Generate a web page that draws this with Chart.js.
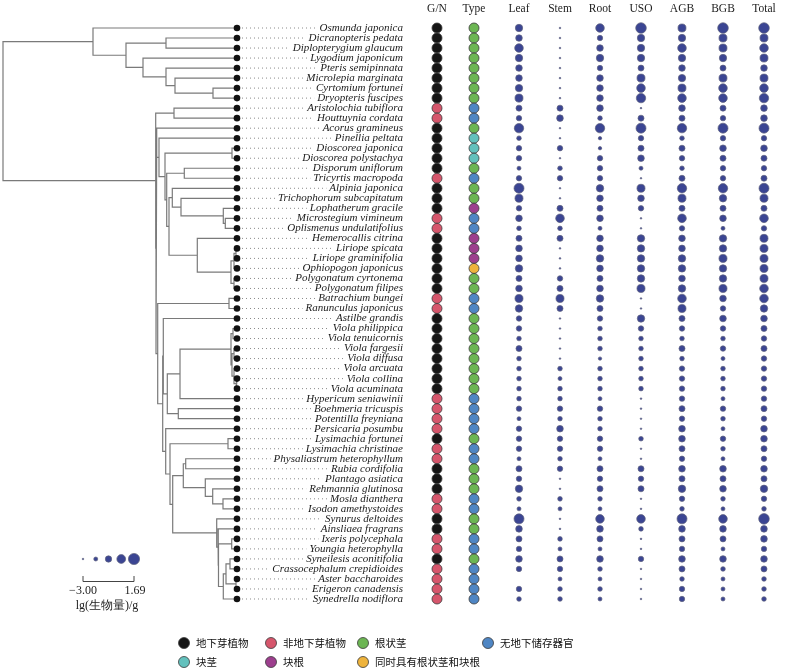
<!DOCTYPE html>
<html><head><meta charset="utf-8">
<script src="https://cdn.jsdelivr.net/npm/chart.js@4.4.1/dist/chart.umd.min.js"></script>
<style>html,body{margin:0;padding:0;background:#fff}#wrap{width:800px;height:671px}</style>
</head><body><div id="wrap"><canvas id="c" width="800" height="671"></canvas></div>
<script>
// ---------------- DATA ----------------
const species = ["Osmunda japonica","Dicranopteris pedata","Diplopterygium glaucum","Lygodium japonicum","Pteris semipinnata","Microlepia marginata","Cyrtomium fortunei","Dryopteris fuscipes","Aristolochia tubiflora","Houttuynia cordata","Acorus gramineus","Pinellia peltata","Dioscorea japonica","Dioscorea polystachya","Disporum uniflorum","Tricyrtis macropoda","Alpinia japonica","Trichophorum subcapitatum","Lophatherum gracile","Microstegium vimineum","Oplismenus undulatifolius","Hemerocallis citrina","Liriope spicata","Liriope graminifolia","Ophiopogon japonicus","Polygonatum cyrtonema","Polygonatum filipes","Batrachium bungei","Ranunculus japonicus","Astilbe grandis","Viola philippica","Viola tenuicornis","Viola fargesii","Viola diffusa","Viola arcuata","Viola collina","Viola acuminata","Hypericum seniawinii","Boehmeria tricuspis","Potentilla freyniana","Persicaria posumbu","Lysimachia fortunei","Lysimachia christinae","Physaliastrum heterophyllum","Rubia cordifolia","Plantago asiatica","Rehmannia glutinosa","Mosla dianthera","Isodon amethystoides","Synurus deltoides","Ainsliaea fragrans","Ixeris polycephala","Youngia heterophylla","Syneilesis aconitifolia","Crassocephalum crepidioides","Aster baccharoides","Erigeron canadensis","Synedrella nodiflora"];

// tree (tips are row indices of `species`), branch lengths
const treeNewick = "(" +
 "(0:144,((1:71,2:71):40,(3:94,(4:71,(5:62,(6:24,7:24):38):9):23):17):33):90," +
 "((8:63,9:63):18.3,(" +
   "(10:80.3,(11:78,((12:5,13:5):67,((14:52.7,15:52.7):17.6,(" +
     "(16:64.7,(17:56,(18:13.7,(19:11.7,20:11.7):2):42.3):8.7):3.3," +
     "(21:39.7,(((22:1,23:1):2,24:3):3,(25:3,26:3):3):33.7):28.3" +
   "):2.3):1.7):6):2.3):0.7," +
   "((27:8,28:8):71.3,(" +
     "(29:73.7,((((30:4,31:4):2,((32:3,33:3):2,(34:3,(35:1,36:1):2):2):1):51,37:57):12.7,(38:58.7,39:58.7):11):4):0.6," +
     "(40:71.3,((41:9,42:9):58,(" +
       "((43:51.3,44:51.3):2.4,(45:31.7,(46:24.3,(47:14,48:14):10.3):7.4):22):10.6," +
       "(49:20.3,(50:19,((51:5.3,52:5.3):13.2,(((53:7,54:7):4,(55:1,56:1):10):2.7,57:13.7):4.8):0.5):1.3):44" +
     "):2.7):4.3):3" +
   "):5):1.7" +
 "):0.3):152.7);";

// G = 地下芽植物, N = 非地下芽植物
const growthGroup = "GGGGGGGGNNGGGGGNGGGNNGGGGGGNNGGGGGGGGNNNNGNNGGGNNGGNNGNNNN".split("");
// R 根状茎, N 无地下储存器官, T 块茎, K 块根, B 同时具有根状茎和块根
const organType = "RRRRRRRRNNRTTTRNRRKNNKKKBRRNNRRRRRRRRNNNNRNNRRRNNRRNNRNNNN".split("");

// lg(biomass)/g
const leaf  = [-0.17,-0.56,0.42,-0.17,-0.56,-0.56,-0.17,0.13,-0.85,-1.14, 0.81,-1.53,-1.14,-1.14,-1.83,-1.14,1.10,0.13,-1.14,-0.56, -1.53,-0.85,-0.56,-0.56,-0.17,-0.85,-0.56,0.13,-0.17,-1.14, -1.14,-1.53,-0.85,-1.53,-1.53,-1.53,-1.53,-1.53,-1.14,-1.83, -1.14,-1.14,-1.14,-1.83,-0.85,-1.14,-0.17,-1.53,-1.83,1.10, -0.56,-0.85,-1.14,-0.56,-1.14,null,-1.14,-1.53];
const stem  = [-3,-3,-3,-3,-3,-3,-3,-3,-0.85,-0.56, -3,-3,-1.14,-3,-1.53,-1.14,-3,-3,-0.85,0.42, -1.53,-0.85,-3,-3,-3,-1.14,-0.85,0.13,-0.85,-3, -3,-3,-3,-3,-1.53,-1.83,-1.53,-1.53,-1.14,-1.53, -0.56,-1.14,-1.14,-1.53,-1.14,-3,-3,-1.53,-1.83,-3, -3,-1.53,-1.83,-0.85,-1.14,-1.83,-1.53,-1.53];
const root  = [0.42,-1.14,-0.56,-0.17,-1.14,-0.56,-0.56,-0.56,-0.56,-1.53, 0.81,-2.12,-2.12,-1.14,-1.14,-1.14,-0.17,-0.56,-0.85,-0.56, -1.83,-0.56,-0.56,-0.17,-0.56,-0.85,-0.56,-0.17,-0.85,-1.14, -1.53,-1.53,-1.53,-2.12,-1.53,-1.53,-1.53,-1.83,-1.14,-1.53, -1.53,-1.14,-1.14,-1.83,-0.85,-1.14,-0.85,-1.53,-1.83,0.42, -0.56,-0.85,-1.83,-0.56,-1.53,-1.83,-1.53,-1.83];
const uso   = [1.40,-0.17,-0.17,-0.17,-0.85,0.13,0.42,0.81,-3,-0.85, 1.10,-1.14,-0.85,-0.56,-1.83,-3,0.13,-0.56,-1.14,-3, -3,-0.17,-0.17,-0.17,-0.17,-0.17,0.13,-3,-3,-0.17, -1.14,-1.53,-1.53,-1.53,-1.53,-1.53,-1.53,-3,-3,-3, -3,-1.53,-3,-3,-0.85,-1.14,-0.85,-3,-3,0.42, -1.53,-3,-3,-1.14,-3,-3,-3,-3];
const agb   = [0.13,-0.17,0.42,-0.17,-0.56,-0.17,0.13,0.42,-0.56,-0.85, 0.81,-1.53,-0.85,-1.14,-1.53,-0.85,0.81,0.13,-0.85,0.42, -1.14,-0.56,-0.56,-0.17,-0.17,-0.56,-0.17,0.42,0.13,-0.85, -1.14,-1.53,-0.85,-1.53,-1.14,-1.14,-1.14,-1.14,-0.85,-1.14, -0.56,-0.56,-0.85,-1.14,-0.56,-0.85,-0.17,-1.14,-1.53,1.10, -0.56,-0.85,-1.14,-0.56,-0.85,-1.53,-1.14,-1.14];
const bgb   = [1.40,0.13,0.13,-0.17,-0.85,0.13,0.42,0.42,-0.85,-1.14, 1.10,-1.14,-0.56,-0.85,-1.14,-1.14,0.81,-0.17,-0.85,-0.56, -1.83,-0.17,-0.17,0.13,-0.17,-0.17,0.13,-0.56,-1.14,-0.56, -1.14,-1.53,-1.14,-1.83,-1.53,-1.53,-1.53,-1.83,-1.14,-1.53, -1.83,-1.14,-1.53,-1.83,-0.56,-0.85,-0.56,-1.53,-1.83,0.42, -0.56,-0.85,-1.83,-0.56,-1.53,-1.83,-1.83,-1.83];
const total = [1.40,0.13,0.42,0.13,-0.56,0.13,0.42,0.81,-0.56,-0.56, 1.10,-1.14,-0.56,-0.85,-1.14,-0.85,1.10,0.13,-0.85,0.42, -1.14,0.13,0.13,0.13,0.13,0.13,0.42,0.42,-0.17,-0.56, -0.85,-1.14,-0.85,-1.14,-1.14,-1.14,-1.14,-1.14,-0.85,-1.14, -0.56,-0.56,-0.85,-1.14,-0.56,-0.85,-0.17,-1.14,-1.53,1.40, -0.56,-0.56,-1.14,-0.56,-0.85,-1.53,-1.53,-1.53];

const columnNames = ["G/N","Type","Leaf","Stem","Root","USO","AGB","BGB","Total"];
const biomassSeries = [leaf, stem, root, uso, agb, bgb, total];
const sizeRange = [-3.00, 1.69];
const groupLabels = {G:"地下芽植物", N:"非地下芽植物"};
const typeLabels = {R:"根状茎", N:"无地下储存器官", T:"块茎", K:"块根", B:"同时具有根状茎和块根"};

// ---------------- STYLE / LAYOUT ----------------
const groupColors = {G:"#151515", N:"#d6566c"};
const typeColors = {R:"#6cb653", N:"#4f86c4", T:"#63c1bd", K:"#9d3f8e", B:"#eeb33c"};
const bubbleFill = "#3b4593", bubbleEdge = "#60637e";
const L = {treeX0:3, labelRight:403, colX:[437,474,519,560,600,641,682,723,764],
  rowY0:28, rowStep:10.0175, W:800, H:671, headerY:9};
const SERIF = '"Liberation Serif","Times New Roman",serif';
const CJK = '"Noto Sans CJK SC","Noto Sans CJK JP",sans-serif';
const rMin = 0.8, rMax = 5.6;
function sizeOf(v){ return rMin + (v - sizeRange[0]) / (sizeRange[1] - sizeRange[0]) * (rMax - rMin); }

// ---------------- TREE ----------------
function parseNewick(s){
  let i = 0;
  function node(){
    const n = {children:[]};
    if (s[i] === '('){
      i++; n.children.push(node());
      while (s[i] === ','){ i++; n.children.push(node()); }
      i++;
    }
    let name = '';
    while (i < s.length && !':,();'.includes(s[i])) name += s[i++];
    if (name) n.name = name;
    n.len = 0;
    if (s[i] === ':'){ i++; let num=''; while (i < s.length && !',();'.includes(s[i])) num += s[i++]; n.len = parseFloat(num); }
    return n;
  }
  return node();
}
const tree = parseNewick(treeNewick);
(function lay(n, d){
  n.d = d + n.len;
  if (!n.children.length){ n.y = +n.name; return; }
  n.children.forEach(c => lay(c, n.d));
  const ys = n.children.map(c => c.y);
  n.y = (Math.min(...ys) + Math.max(...ys)) / 2;
})(tree, 0);

const treePts = [], tipPts = [];
(function walk(n){
  if (!n.children.length){ tipPts.push({x: L.treeX0 + n.d, y: n.y}); return; }
  const cs = [...n.children].sort((a,b) => a.y - b.y);
  const nx = L.treeX0 + n.d, f = cs[0], l = cs[cs.length-1];
  treePts.push({x:L.treeX0+f.d, y:f.y},{x:nx, y:f.y},{x:nx, y:l.y},{x:L.treeX0+l.d, y:l.y},{x:null,y:null});
  cs.slice(1,-1).forEach(c => treePts.push({x:nx,y:c.y},{x:L.treeX0+c.d,y:c.y},{x:null,y:null}));
  cs.forEach(walk);
})(tree);

// leader (dotted) lines from tips to labels
const mctx = document.createElement('canvas').getContext('2d');
const LABEL_FONT = 'italic 11px ' + SERIF;
mctx.font = LABEL_FONT;
const leaderPts = [];
tipPts.forEach(t => {
  const w = mctx.measureText(species[t.y]).width;
  leaderPts.push({x: t.x + 5, y: t.y}, {x: L.labelRight - w - 3, y: t.y}, {x:null, y:null});
});

// ---------------- DATASETS ----------------
const datasets = [
  {type:'line', data:treePts, borderColor:'#7a7a7a', borderWidth:1.2, pointRadius:0, spanGaps:false, tension:0, borderJoinStyle:'miter', borderCapStyle:'square', order:10},
  {type:'line', data:leaderPts, borderColor:'#8a8a8a', borderWidth:1, borderDash:[1,3], pointRadius:0, spanGaps:false, order:9},
  {type:'scatter', data:tipPts, pointRadius:3.3, pointBackgroundColor:'#111', pointBorderWidth:0, order:8},
  {type:'scatter', data:growthGroup.map((g,i)=>({x:L.colX[0], y:i})), pointRadius:5,
    pointBackgroundColor:growthGroup.map(g=>groupColors[g]), pointBorderColor:'#3a3a3a', pointBorderWidth:0.8, order:7},
  {type:'scatter', data:organType.map((t,i)=>({x:L.colX[1], y:i})), pointRadius:5,
    pointBackgroundColor:organType.map(t=>typeColors[t]), pointBorderColor:'#3a3a3a', pointBorderWidth:0.8, order:7}
];
biomassSeries.forEach((arr,k) => {
  const pts = [];
  arr.forEach((v,i) => { if (v !== null) pts.push({x:L.colX[k+2], y:i, r:sizeOf(v)}); });
  datasets.push({type:'bubble', data:pts, backgroundColor:bubbleFill, borderColor:bubbleEdge, borderWidth:0.7, order:6});
});

// ---------------- TEXT / LEGENDS ----------------
const textPlugin = {
  id:'texts',
  afterDatasetsDraw(chart){
    const ctx = chart.ctx, xs = chart.scales.x, ys = chart.scales.y;
    ctx.save();
    // species labels
    ctx.font = LABEL_FONT; ctx.fillStyle = '#1a1a1a'; ctx.textAlign = 'right'; ctx.textBaseline = 'middle';
    species.forEach((s,i) => ctx.fillText(s, xs.getPixelForValue(L.labelRight), ys.getPixelForValue(i)));
    // column headers
    ctx.font = '11.5px ' + SERIF; ctx.textAlign = 'center'; ctx.fillStyle = '#222';
    columnNames.forEach((c,k) => ctx.fillText(c, xs.getPixelForValue(L.colX[k]), L.headerY));
    // size legend
    const lx0 = 83, lx1 = 134, ly = 559, n = 5;
    for (let k = 0; k < n; k++){
      const v = sizeRange[0] + (sizeRange[1]-sizeRange[0]) * k/(n-1);
      const cx = lx0 + (lx1-lx0)*k/(n-1);
      ctx.beginPath(); ctx.arc(cx, ly, sizeOf(v), 0, Math.PI*2);
      ctx.fillStyle = bubbleFill; ctx.fill(); ctx.lineWidth = 0.7; ctx.strokeStyle = bubbleEdge; ctx.stroke();
    }
    ctx.beginPath(); ctx.strokeStyle = '#444'; ctx.lineWidth = 1;
    ctx.moveTo(lx0, 576); ctx.lineTo(lx0, 581.5); ctx.lineTo(lx1, 581.5); ctx.lineTo(lx1, 576); ctx.stroke();
    ctx.fillStyle = '#222'; ctx.font = '12px ' + SERIF; ctx.textAlign = 'center';
    ctx.fillText('\u2212' + Math.abs(sizeRange[0]).toFixed(2), lx0, 591);
    ctx.fillText(sizeRange[1].toFixed(2), lx1 + 1, 591);
    ctx.font = '12px ' + SERIF;
    ctx.fillText('lg(生物量)/g', 107, 606);
    // category legend
    const items = [
      [groupColors.G, groupLabels.G, 184, 643], [groupColors.N, groupLabels.N, 271, 643],
      [typeColors.R, typeLabels.R, 363, 643], [typeColors.N, typeLabels.N, 488, 643],
      [typeColors.T, typeLabels.T, 184, 662], [typeColors.K, typeLabels.K, 271, 662],
      [typeColors.B, typeLabels.B, 363, 662]
    ];
    ctx.textAlign = 'left'; ctx.font = '10.5px ' + CJK;
    items.forEach(([col, lab, x, y]) => {
      ctx.beginPath(); ctx.arc(x, y, 5.5, 0, Math.PI*2);
      ctx.fillStyle = col; ctx.fill(); ctx.lineWidth = 0.8; ctx.strokeStyle = '#3a3a3a'; ctx.stroke();
      ctx.fillStyle = '#111'; ctx.fillText(lab, x + 12, y + 0.5);
    });
    ctx.restore();
  }
};

const yMin = -L.rowY0 / L.rowStep;
new Chart(document.getElementById('c'), {
  type:'scatter',
  data:{datasets},
  options:{
    responsive:false, animation:false, events:[],
    layout:{padding:0, autoPadding:false},
    plugins:{legend:{display:false}, tooltip:{enabled:false}, title:{display:false}},
    scales:{
      x:{type:'linear', min:0, max:L.W, display:false, bounds:'data'},
      y:{type:'linear', reverse:true, min:yMin, max:yMin + L.H / L.rowStep, display:false, bounds:'data'}
    }
  },
  plugins:[textPlugin]
});
</script></body></html>
